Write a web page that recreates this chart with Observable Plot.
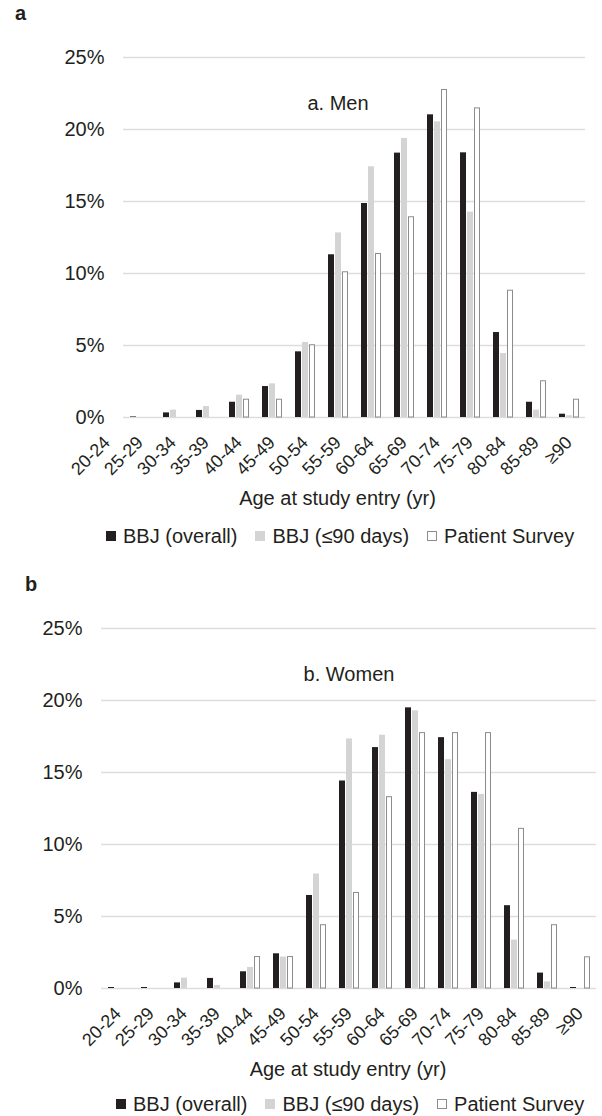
<!DOCTYPE html>
<html>
<head>
<meta charset="utf-8">
<script src="https://cdn.jsdelivr.net/npm/d3@7"></script>
<script src="https://cdn.jsdelivr.net/npm/@observablehq/plot@0.6"></script>
<style>
  body { margin: 0; background: #fff; font-family: "Liberation Sans", Arial, sans-serif; color: #231f20; }
  #wrap { position: relative; width: 602px; height: 1116px; overflow: hidden; background: #fff; }
  .svgbox { position: absolute; left: 0; width: 602px; }
  .tag { position: absolute; font-weight: bold; font-size: 20px; line-height: 20px; }
  .xtitle { position: absolute; font-size: 20px; line-height: 20px; text-align: center; white-space: nowrap; }
  .legend { position: absolute; display: flex; align-items: center; font-size: 20px; line-height: 20px; white-space: nowrap; }
  .legend .item { display: flex; align-items: center; margin-right: 18px; }
  .legend .sw { display: inline-block; width: 10px; height: 10px; margin-right: 7px; box-sizing: border-box; }
</style>
</head>
<body>
<div id="wrap"></div>
<script>
const ages = ["20-24","25-29","30-34","35-39","40-44","45-49","50-54","55-59","60-64","65-69","70-74","75-79","80-84","85-89","≥90"];
const series = ["BBJ (overall)", "BBJ (≤90 days)", "Patient Survey"];
const seriesColors = ["#231f20", "#d4d4d4", "#ffffff"];

const menOverall = [0, 0.04, 0.32, 0.49, 1.06, 2.15, 4.56, 11.30, 14.86, 18.36, 21.02, 18.38, 5.90, 1.06, 0.23];
const menEarly   = [0, 0, 0.51, 0.76, 1.55, 2.34, 5.21, 12.82, 17.41, 19.38, 20.53, 14.26, 4.44, 0.51, 0.12];
const menSurvey  = [0, 0, 0, 0, 1.27, 1.27, 5.05, 10.12, 11.39, 13.94, 22.78, 21.50, 8.84, 2.55, 1.27];

const womenOverall = [0.07, 0.07, 0.39, 0.70, 1.16, 2.41, 6.46, 14.41, 16.73, 19.49, 17.42, 13.62, 5.75, 1.07, 0.07];
const womenEarly   = [0, 0, 0.72, 0.21, 1.46, 2.18, 7.95, 17.33, 17.59, 19.28, 15.89, 13.48, 3.36, 0.46, 0];
const womenSurvey  = [0, 0, 0, 0, 2.22, 2.22, 4.43, 6.67, 13.32, 17.77, 17.77, 17.77, 11.12, 4.43, 2.20];

const yTicks = [0, 5, 10, 15, 20, 25];
const xTitle = "Age at study entry (yr)";
const panels = [
  {tag: "a", title: "a. Men", vals: [menOverall, menEarly, menSurvey], top: 0, ml: 84, mr: 11, legendTop: 526},
  {tag: "b", title: "b. Women", vals: [womenOverall, womenEarly, womenSurvey], top: 571, ml: 94, mr: 0, legendTop: 523}
];

const font = '"Liberation Sans", Arial, sans-serif';
const wrap = document.getElementById("wrap");

for (const p of panels) {
  const data = [];
  ages.forEach((a, i) => {
    series.forEach((s, k) => {
      const v = p.vals[k][i];
      if (v > 0) data.push({age: a, series: s, value: v});
    });
  });
  const filled = data.filter(d => d.series !== series[2]);
  const outlined = data.filter(d => d.series === series[2]);

  const chart = Plot.plot({
    width: 602,
    height: 492,
    marginTop: 57,
    marginBottom: 75,
    marginLeft: p.ml,
    marginRight: p.mr,
    style: {fontFamily: font, fontSize: "20px", color: "#231f20", background: "transparent"},
    fx: {domain: ages, padding: 0, label: null},
    x: {domain: series, axis: null, paddingInner: 0.2, paddingOuter: 0.75},
    y: {domain: [0, 25], axis: null},
    color: {domain: series, range: seriesColors},
    marks: [
      Plot.gridY(yTicks, {stroke: "#dddddd", strokeOpacity: 1, strokeWidth: 1.3}),
      Plot.axisY(yTicks, {tickFormat: d => d + "%", tickSize: 0, tickPadding: 19, label: null, fontSize: 20, fill: "#231f20"}),
      Plot.barY(filled, {fx: "age", x: "series", y: "value", fill: "series"}),
      Plot.barY(outlined, {fx: "age", x: "series", y: "value", fill: "#ffffff", stroke: "#8c8c8c", strokeWidth: 1, insetLeft: 0.5, insetRight: 0.5, insetTop: 0.5}),
      Plot.axisFx({anchor: "bottom", tickRotate: -45, tickSize: 0, tickPadding: 22, label: null, fontSize: 18, fill: "#231f20"}),
      Plot.text([p.title], {fx: ["55-59"], text: d => d, frameAnchor: "top", dy: 38, fontSize: 20, fill: "#231f20"})
    ]
  });

  const box = document.createElement("div");
  box.className = "svgbox";
  box.style.top = p.top + "px";
  box.appendChild(chart);
  wrap.appendChild(box);

  const tag = document.createElement("div");
  tag.className = "tag";
  tag.textContent = p.tag;
  tag.style.left = (p.tag === "a" ? 15 : 25) + "px";
  tag.style.top = (p.top + 3) + "px";
  wrap.appendChild(tag);

  const xt = document.createElement("div");
  xt.className = "xtitle";
  xt.textContent = xTitle;
  xt.style.left = p.ml + "px";
  xt.style.width = (602 - p.ml - p.mr) + "px";
  xt.style.top = (p.top + 488) + "px";
  wrap.appendChild(xt);

  const lg = document.createElement("div");
  lg.className = "legend";
  lg.style.left = (p.ml + 22) + "px";
  lg.style.top = (p.top + p.legendTop) + "px";
  series.forEach((s, k) => {
    const it = document.createElement("span");
    it.className = "item";
    const sw = document.createElement("span");
    sw.className = "sw";
    sw.style.background = seriesColors[k];
    if (k === 2) sw.style.border = "1px solid #8c8c8c";
    it.appendChild(sw);
    it.appendChild(document.createTextNode(s));
    lg.appendChild(it);
  });
  wrap.appendChild(lg);
}
</script>
</body>
</html>
